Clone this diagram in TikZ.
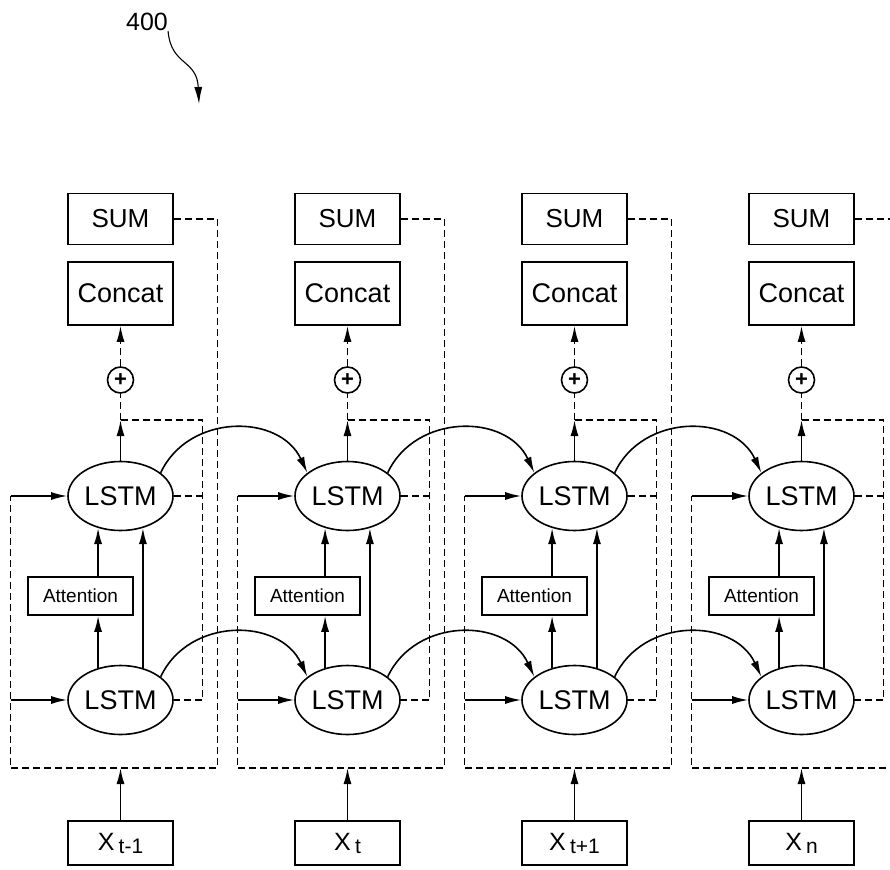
\documentclass[tikz,border=0pt]{standalone}
\usepackage{fontspec}
\setmainfont{Liberation Sans}
\usetikzlibrary{arrows.meta,shapes.geometric}
\tikzset{
	box/.style={draw,line width=1.6pt,minimum width=105pt,inner sep=0pt},
	cell/.style={draw,ellipse,line width=1.6pt,minimum width=105pt,minimum height=69pt,inner sep=0pt,font=\fontsize{27}{29}\selectfont},
	arr/.style={line width=1.6pt,-{Latex[length=16pt,width=8pt]}},
	link/.style={line width=1.6pt,dash pattern=on 7pt off 4pt},
}
\newcommand{\xin}[1]{X\,\raisebox{-3pt}{\fontsize{21}{21}\selectfont #1}}

\begin{document}
\begin{tikzpicture}[x=1pt,y=-1pt]
	\useasboundingbox (0,0) rectangle (890,869);
	\clip (0,0) rectangle (890,869);
	
	\node[inner sep=0pt,font=\fontsize{25}{25}\selectfont] (fig) at (147,22) {400};
	\coordinate (figtip) at (199,104);
	\draw[line width=1.1pt,-{Latex[length=17pt,width=8pt]}] (fig.south east) .. controls +(3,35) and +(-2,-45) .. (figtip);
	
	\foreach \i/\s in {1/t-1,2/t,3/t+1,4/n} {
		\pgfmathsetmacro\cx{120.5+227*(\i-1)}
		\node[box,minimum height=51pt,font=\fontsize{26}{28}\selectfont] (sum\i) at (\cx,219) {SUM};
		\node[box,minimum height=63pt,font=\fontsize{27}{29}\selectfont] (cat\i) at (\cx,293.5) {Concat};
		\node[draw,circle,line width=1.6pt,minimum size=26pt,inner sep=0pt,font=\fontsize{22}{22}\selectfont\bfseries] (plus\i) at (\cx,380) {+};
		\node[cell] (top\i) at (\cx,496) {LSTM};
		\node[box,minimum height=38pt,font=\fontsize{19}{21}\selectfont] (att\i) at (\cx-40,596) {Attention};
		\node[cell] (bot\i) at (\cx,700) {LSTM};
		\node[box,minimum height=44pt,font=\fontsize{25}{27}\selectfont] (x\i) at (\cx,843) {\xin{\s}};
		
		\coordinate (jn\i) at (\cx,420);
		\coordinate (jr\i) at (\cx+82,420);
		\coordinate (tr\i) at (\cx+82,496);
		\coordinate (br\i) at (\cx+82,700);
		\coordinate (os\i) at (\cx+97,219);
		\coordinate (oc\i) at (\cx+97,768);
		\coordinate (mid\i) at (\cx,768);
		\coordinate (cor\i) at (\cx-110,768);
		\coordinate (ib\i) at (\cx-110,700);
		\coordinate (in\i) at (\cx-110,496);
		
		% inside the cell
		\draw[arr] (top\i.north) -- (jn\i);
		\draw[link] (jn\i) -- (plus\i);
		\draw[link,-{Latex[length=16pt,width=8pt]}] (plus\i) -- (cat\i);
		\draw[link] (jn\i) -- (jr\i) -- (br\i) -- (bot\i.east);
		\draw[link] (top\i.east) -- (tr\i);
		\draw[arr] (bot\i.125) -- (att\i.south -| bot\i.125);
		\draw[arr] (att\i.north -| top\i.235) -- (top\i.235);
		\draw[arr] (bot\i.55) -- (top\i.-55);
		
		% outer loop
		\draw[link] (sum\i) -- (os\i) -- (oc\i) -- (cor\i) -- (in\i);
		\draw[arr] (in\i) -- (top\i);
		\draw[arr] (ib\i) -- (bot\i);
		\draw[arr] (x\i) -- (mid\i);
	}
	
	\foreach \i [evaluate=\i as \j using int(\i+1)] in {1,2,3} {
		\draw[arr] (top\i.30) to[out=65,in=115,looseness=1.15] (top\j.150);
		\draw[arr] (bot\i.30) to[out=65,in=115,looseness=1.15] (bot\j.150);
	}
\end{tikzpicture}
\end{document}
